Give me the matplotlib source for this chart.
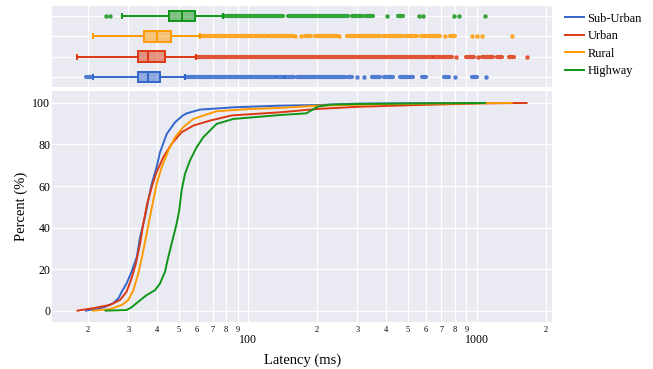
import numpy as np
import matplotlib
matplotlib.use('Agg')
import matplotlib.pyplot as plt

plt.rcParams['font.family'] = ['Liberation Serif', 'DejaVu Serif']

# series names and colours
groups = ['Sub-Urban', 'Urban', 'Rural', 'Highway']
colors = ['#3366CC', '#DC3912', '#FF9900', '#109618']

# ECDF points (latency ms, percent)
sub_x = [19.6, 21.0, 23.5, 25.8, 27.2, 28.1, 29.5, 31.0, 32.7, 33.8, 35.5, 36.7, 38.0,
         39.9, 41.3, 44.2, 48.0, 52.0, 54.0, 61.7, 86.3, 138, 200, 308, 550, 1094]
sub_y = [0, 0.6, 1.6, 3.6, 6.0, 9.1, 13.1, 18.7, 25.9, 35.5, 45.1, 53.1, 61.1,
         69.1, 76.3, 85.1, 90.7, 94.0, 95.0, 96.8, 97.9, 98.7, 99.0, 99.7, 99.9, 100]

urb_x = [18.0, 21.1, 24.9, 27.6, 29.5, 31.0, 32.4, 33.8, 34.9, 36.3, 38.0, 39.9, 42.7,
         46.4, 51.3, 57.7, 68.2, 85.0, 138, 200, 308, 546, 1062, 1648]
urb_y = [0, 1.2, 2.7, 5.1, 9.1, 15.5, 22.7, 32.3, 41.9, 51.5, 59.5, 66.7, 73.9,
         80.3, 85.9, 89.1, 91.5, 94.0, 95.5, 97.1, 98.2, 99.0, 99.8, 100]

rur_x = [21.0, 24.9, 28.1, 30.0, 31.6, 33.2, 34.7, 36.1, 37.3, 38.6, 39.9, 42.0, 44.9,
         48.0, 52.1, 57.7, 66.1, 72.9, 102, 138, 200, 400, 1000, 1416]
rur_y = [0, 0.7, 2.7, 5.1, 9.9, 17.9, 27.5, 37.1, 45.1, 53.1, 61.1, 69.1, 77.1,
         83.5, 88.3, 92.3, 94.5, 96.0, 97.1, 97.6, 98.7, 99.4, 99.9, 100]

hwy_x = [23.9, 29.5, 31.0, 33.2, 36.1, 39.3, 41.3, 43.4, 44.9, 47.2, 48.8, 50.1, 51.3,
         53.1, 55.8, 59.7, 63.8, 72.9, 86.3, 138, 180, 201, 228, 308, 600, 1084]
hwy_y = [0, 0.3, 1.6, 4.3, 7.5, 9.9, 13.1, 18.7, 25.9, 35.5, 41.9, 48.3, 57.9,
         65.9, 72.3, 78.7, 83.5, 89.9, 92.3, 94.2, 95.0, 98.2, 99.2, 99.5, 99.8, 100]

ecdf_x = [sub_x, urb_x, rur_x, hwy_x]
ecdf_y = [sub_y, urb_y, rur_y, hwy_y]

# box statistics: lower whisker, q1, median, q3, upper whisker
whislo = [21.1, 18.0, 21.0, 28.1]
q1 = [33.1, 33.0, 35.2, 45.2]
med = [36.5, 36.5, 39.9, 51.3]
q3 = [41.3, 43.5, 45.9, 58.5]
whishi = [53.1, 59.3, 61.7, 77.5]

# outliers: single points and dense runs (lo, hi)
out_single = [
    [300, 321, 801, 1094],
    [809, 1006, 1648],
    [161, 170, 249, 725, 955, 1003, 1054, 1416],
    [23.9, 25.0, 403, 560, 583, 794, 834, 1084],
]
out_runs = [
    [(19.6, 20.6), (53.1, 131), (134, 143), (145, 159), (163, 265), (274, 286),
     (347, 377), (393, 428), (461, 527), (573, 598), (720, 755), (951, 1000)],
    [(59.3, 634), (646, 776), (896, 972), (1054, 1178), (1219, 1289), (1383, 1456)],
    [(61.7, 109), (112, 121), (124, 157), (177, 188), (196, 244), (270, 377),
     (390, 469), (485, 546), (569, 689), (762, 801)],
    [(77.5, 142), (150, 274), (284, 314), (324, 352), (452, 475)],
]

bg = '#EAEAF2'
xlim = (13.98, 2126)

fig = plt.figure(figsize=(6.53, 3.69), dpi=100)
ax = fig.add_axes([0.0801, 0.1266, 0.7652, 0.6276])
axb = fig.add_axes([0.0801, 0.7634, 0.7652, 0.2212])

major = [100, 1000]
minor = [20, 30, 40, 50, 60, 70, 80, 90, 200, 300, 400, 500, 600, 700, 800, 900, 2000]
minor_lab = ['2', '3', '4', '5', '6', '7', '8', '9', '2', '3', '4', '5', '6', '7', '8', '9', '2']

for a in (ax, axb):
    a.set_facecolor(bg)
    a.set_xscale('log')
    a.set_xlim(xlim)
    a.set_xticks(major)
    a.set_xticks(minor, minor=True)
    a.grid(which='both', axis='both', color='white', lw=0.9)
    a.set_axisbelow(True)
    for s in a.spines.values():
        s.set_visible(False)
    a.tick_params(which='both', length=0)

# main ECDF
lines = []
for i in range(4):
    ln, = ax.plot(ecdf_x[i], ecdf_y[i], color=colors[i], lw=1.4, label=groups[i])
    lines.append(ln)

ax.set_ylim(-5.6, 105.9)
ax.set_yticks([0, 20, 40, 60, 80, 100])
ax.tick_params(axis='y', labelsize=8.6, pad=1.5)
ax.set_xticklabels(['100', '1000'])
ax.set_xticklabels(minor_lab, minor=True)
ax.tick_params(axis='x', which='minor', labelsize=6, pad=2.5)
ax.tick_params(axis='x', which='major', labelsize=8.6, pad=8.5)
ax.set_xlabel('Latency (ms)', fontsize=10.5, labelpad=5.5)
ax.set_ylabel('Percent (%)', fontsize=10.5, labelpad=3)

# marginal boxes
for i in range(4):
    st = [dict(whislo=whislo[i], q1=q1[i], med=med[i], q3=q3[i], whishi=whishi[i], fliers=[])]
    c = colors[i]
    axb.bxp(st, positions=[i], widths=0.52, orientation='horizontal', patch_artist=True,
            showfliers=False, capwidths=0.2,
            boxprops=dict(facecolor=matplotlib.colors.to_rgba(c, 0.5), edgecolor=c, lw=1.4),
            medianprops=dict(color=c, lw=1.4),
            whiskerprops=dict(color=c, lw=1.4),
            capprops=dict(color=c, lw=1.4))
    lc = axb.hlines([i] * len(out_runs[i]), [r[0] for r in out_runs[i]],
                    [r[1] for r in out_runs[i]], color=c, lw=3.0, alpha=0.85)
    lc.set_capstyle('round')
    axb.plot(out_single[i], [i] * len(out_single[i]), 'o', color=c, ms=3.2, mew=0, alpha=0.85)

axb.set_ylim(-0.5, 3.5)
axb.set_yticks([0, 1, 2, 3])
axb.set_yticklabels([])
axb.set_xticklabels([])
axb.set_xticklabels([], minor=True)

fig.legend(handles=lines, labels=groups, loc='upper left', bbox_to_anchor=(0.858, 0.979),
           frameon=False, fontsize=8.9, handlelength=1.5, handletextpad=0.3,
           labelspacing=0.45, borderaxespad=0)

fig.savefig('out.png', dpi=100)
